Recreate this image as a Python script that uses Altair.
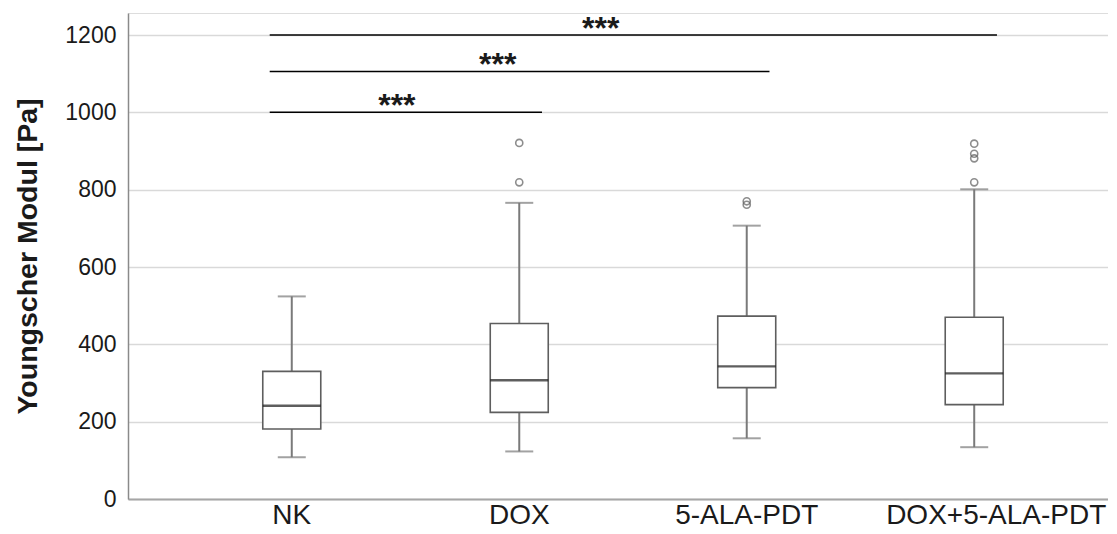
import altair as alt
import pandas as pd

groups = ["NK", "DOX", "5-ALA-PDT", "DOX+5-ALA-PDT"]
whisker_low = [108, 123, 157, 134]
q1 = [181, 224, 288, 244]
median = [241, 307, 343, 325]
q3 = [330, 454, 473, 470]
whisker_high = [524, 766, 707, 801]

outlier_groups = ["DOX", "DOX", "5-ALA-PDT", "5-ALA-PDT",
                  "DOX+5-ALA-PDT", "DOX+5-ALA-PDT", "DOX+5-ALA-PDT", "DOX+5-ALA-PDT"]
outlier_values = [921, 819, 761, 770, 919, 893, 881, 819]

bracket_start = ["NK", "NK", "NK"]
bracket_end = ["DOX+5-ALA-PDT", "5-ALA-PDT", "DOX"]
bracket_y = [1200, 1106, 1000]
bracket_label = ["***", "***", "***"]
# group on which each label sits and its position within that band
label_group = ["DOX", "DOX", "NK"]
label_band_pos = [0.858, 0.405, 0.962]

FONT = "Liberation Sans"
GRAY = "#7a7a7a"

box_df = pd.DataFrame({
    "group": groups, "low": whisker_low, "q1": q1,
    "median": median, "q3": q3, "high": whisker_high,
})
out_df = pd.DataFrame({"group": outlier_groups, "value": outlier_values})

x_scale = alt.Scale(domain=groups, paddingInner=0, paddingOuter=0.154, align=0.714)
y_scale = alt.Scale(domain=[0, 1257], nice=False)

x_enc = alt.X("group:N", scale=x_scale, sort=groups,
              axis=alt.Axis(title=None, labelAngle=0, labelFont=FONT, labelFontSize=28,
                            labelColor="#1a1a1a", labelPadding=2, ticks=False, labelLimit=400,
                            labelOffset={"expr": "datum.value == 'DOX+5-ALA-PDT' ? 22 : 0"},
                            domainColor="#a6a6a6", domainWidth=2, grid=False))

base = alt.Chart(box_df)

whisk_lo = base.mark_rule(color=GRAY, strokeWidth=2).encode(
    x=x_enc,
    y=alt.Y("low:Q", scale=y_scale,
            axis=alt.Axis(title="Youngscher Modul [Pa]", titleFont=FONT, titleFontSize=28.5,
                          titleFontWeight="bold", titleColor="#1a1a1a", titlePadding=22,
                          labelFont=FONT, labelFontSize=23, labelColor="#1a1a1a", format="d",
                          labelPadding=12, ticks=False, values=[0, 200, 400, 600, 800, 1000, 1200],
                          domainColor="#8a8a8a", domainWidth=1.5,
                          gridColor="#d9d9d9", gridWidth=1.5)),
    y2="q1:Q",
)
whisk_hi = base.mark_rule(color=GRAY, strokeWidth=2).encode(
    x="group:N", y="q3:Q", y2="high:Q")

cap_lo = base.mark_tick(color=GRAY, size=28, thickness=2).encode(x="group:N", y="low:Q")
cap_hi = base.mark_tick(color=GRAY, size=28, thickness=2).encode(x="group:N", y="high:Q")

box = base.mark_bar(size=58, fill="white", stroke="#5e5e5e", strokeWidth=1.6).encode(
    x="group:N", y="q1:Q", y2="q3:Q")

med = base.mark_tick(color="#1a1a1a", size=58, thickness=2.4).encode(x="group:N", y="median:Q")

outl = alt.Chart(out_df).mark_point(filled=False, size=50, color="#5e5e5e", strokeWidth=1.6).encode(
    x="group:N", y="value:Q")

br_df = pd.DataFrame({"start": bracket_start, "end": bracket_end, "y": bracket_y})
brackets = alt.Chart(br_df).mark_rule(color="black", strokeWidth=1.5).encode(
    x=alt.X("start:N", bandPosition=0.403),
    x2=alt.X2("end:N", bandPosition=0.6),
    y="y:Q",
)

layers = [whisk_lo, whisk_hi, box, med, cap_lo, cap_hi, outl, brackets]

for g, pos, yv, lab in zip(label_group, label_band_pos, bracket_y, bracket_label):
    ldf = pd.DataFrame({"group": [g], "y": [yv], "label": [lab]})
    layers.append(
        alt.Chart(ldf).mark_text(font=FONT, fontSize=32, fontWeight="bold", color="#1a1a1a",
                                 baseline="alphabetic", align="center", dy=4).encode(
            x=alt.X("group:N", bandPosition=pos), y="y:Q", text="label:N")
    )

chart = alt.layer(*layers).properties(
    width=980, height=486,
    autosize=alt.AutoSizeParams(type="none"),
    padding={"left": 120, "top": 5, "right": 0, "bottom": 33},
).configure_view(stroke=None).configure(background="white")

chart.save("out.html", embed_options={"renderer": "svg", "actions": False})
